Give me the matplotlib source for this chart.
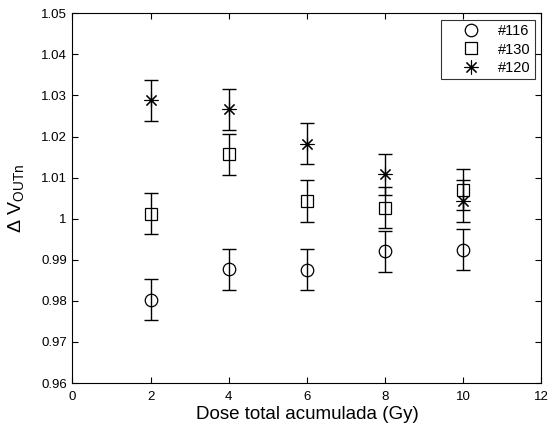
import matplotlib
matplotlib.use("Agg")
import matplotlib.pyplot as plt
import numpy as np

plt.rcParams['font.family'] = ['Liberation Sans', 'DejaVu Sans']
plt.rcParams['mathtext.fontset'] = 'custom'
plt.rcParams['mathtext.rm'] = 'Liberation Sans'
plt.rcParams['mathtext.default'] = 'regular'

# Data
dose = [2, 4, 6, 8, 10]
v116 = [0.9803, 0.9877, 0.9876, 0.9921, 0.9925]
v130 = [1.0012, 1.0157, 1.0043, 1.0027, 1.0070]
v120 = [1.0288, 1.0266, 1.0182, 1.0108, 1.0043]
err = [0.005, 0.005, 0.005, 0.005, 0.005]

fig = plt.figure(figsize=(5.48, 4.28), dpi=100)
ax = fig.add_axes([0.132, 0.105, 0.856, 0.864])

# Asterisk like MATLAB '*'
star = (8, 2, 0)
series = [(v116, 'o', 9, 0.9, '#116'), (v130, 's', 8.5, 0.9, '#130'),
          (v120, star, 10, 0.8, '#120')]
for vals, mk, ms, mew, lab in series:
    ax.errorbar(dose, vals, yerr=err, fmt='none', ecolor='k', elinewidth=1.0,
                capsize=5, capthick=1.0)
    ax.plot(dose, vals, linestyle='none', marker=mk, markersize=ms,
            markerfacecolor='none', markeredgecolor='k', markeredgewidth=mew,
            color='k', label=lab)

ax.set_xlim(0, 12)
ax.set_ylim(0.96, 1.05)
ax.set_xticks(np.arange(0, 13, 2))
ax.set_yticks(np.arange(0.96, 1.0501, 0.01))
ax.set_yticklabels(['0.96', '0.97', '0.98', '0.99', '1', '1.01', '1.02',
                    '1.03', '1.04', '1.05'])
ax.tick_params(direction='in', top=True, right=True, labelsize=9.5, length=4)
ax.tick_params(axis='x', pad=6)
ax.tick_params(axis='y', pad=4)
for s in ax.spines.values():
    s.set_linewidth(0.8)

ax.set_xlabel('Dose total acumulada (Gy)', fontsize=13.5, labelpad=2)
ax.set_ylabel(r'$\Delta$ V$_{OUTn}$', fontsize=14, labelpad=11)

leg = ax.legend(loc='upper right', fontsize=10.5, frameon=True, fancybox=False,
                edgecolor='k', borderpad=0.3, labelspacing=0.3,
                handletextpad=0.1, handlelength=3.5, borderaxespad=0.45)
leg.get_frame().set_linewidth(0.8)

plt.savefig('out.png', dpi=100)
